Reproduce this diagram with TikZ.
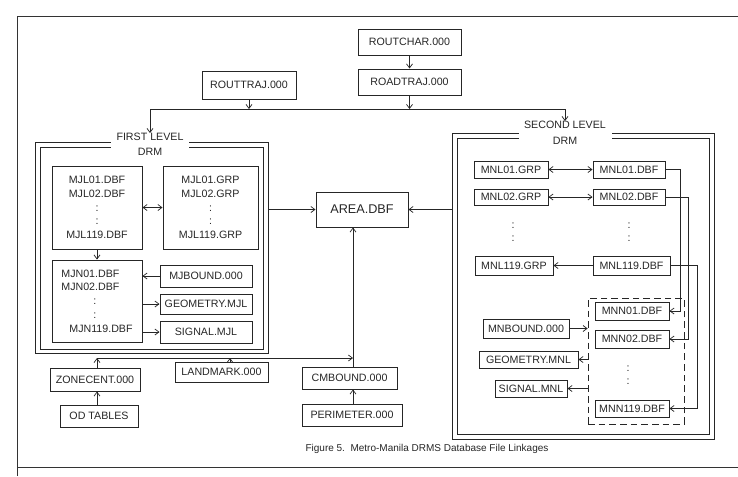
\documentclass[tikz,border=0pt]{standalone}
\usepackage{fontspec}
\setmainfont{Liberation Sans}
\usetikzlibrary{arrows.meta}
\begin{document}
\begin{tikzpicture}[x=0.75pt,y=-0.75pt,
  fbox/.style={draw=black!85, line width=0.75pt, inner sep=0pt, text=black!85,
    font=\fontsize{8}{10.3}\selectfont},
  sz/.style 2 args={minimum width=#1*0.75pt, minimum height=#2*0.75pt},
  conn/.style={draw=black!85, line width=0.55pt},
  arr/.style={conn, -{Straight Barb[length=3pt,width=4.5pt]}},
  darr/.style={conn, {Straight Barb[length=3pt,width=4.5pt]}-{Straight Barb[length=3pt,width=4.5pt]}},
  frm/.style={draw=black!85, line width=0.7pt, inner sep=0pt},
  ttl/.style={fill=white, inner sep=0pt, align=center, text=black!85},
  dotcol/.style={inner sep=0pt, align=center, text=black!85, font=\fontsize{8}{10}\selectfont},
  dbx/.style={draw=black!85, dashed, dash pattern=on 5pt off 3pt, line width=0.6pt, inner sep=0pt}
]
\useasboundingbox (0,0) rectangle (738,476);
% outer page frame
\draw[line width=0.7pt, black!80] (17,476) -- (17,16) -- (738,16);
\draw[line width=0.7pt, black!80] (17,467) -- (738,467);

% top files
\node[fbox, sz={103}{26}] (routchar) at (409.5,42) {ROUTCHAR.000};
\node[fbox, sz={103}{26}] (roadtraj) at (409.5,82) {ROADTRAJ.000};
\node[fbox, sz={94}{28}] (routtraj) at (249,85) {ROUTTRAJ.000};

% level frames (double lines)
\node[frm, sz={233}{211}] (f1) at (151.5,247.5) {};
\node[frm, sz={223}{202}] (f1i) at (151.5,248) {};
\node[frm, sz={262}{306}] (f2) at (583,286) {};
\node[frm, sz={252}{296}] (f2i) at (583,286) {};
\node[ttl, minimum width=78*0.75pt, font=\fontsize{8}{11.25}\selectfont] (t1) at (150,144.5) {FIRST LEVEL\\DRM};
\node[ttl, minimum width=93*0.75pt, font=\fontsize{8}{12}\selectfont] (t2) at (565,133) {SECOND LEVEL\\DRM};

% first level contents
\node[fbox, sz={90}{83}, align=center] (mjl) at (97,207.5) {MJL01.DBF\\MJL02.DBF\\:\\:\\MJL119.DBF};
\node[fbox, sz={95}{83}, align=center] (mjlg) at (210.5,207.5) {MJL01.GRP\\MJL02.GRP\\:\\:\\MJL119.GRP};
\node[fbox, sz={90}{82}, align=left] (mjn) at (97,301) {MJN01.DBF\\MJN02.DBF\\\hspace*{24pt}:\\\hspace*{24pt}:\\\hspace*{6pt}MJN119.DBF};
\node[fbox, sz={92}{22}] (mjbound) at (206,276) {MJBOUND.000};
\node[fbox, sz={92}{20}] (geomj) at (206,304) {GEOMETRY.MJL};
\node[fbox, sz={92}{22}] (sigmj) at (206,332) {SIGNAL.MJL};

% centre
\node[fbox, sz={92}{35}, font=\fontsize{9.5}{11}\selectfont] (area) at (362,209.5) {AREA.DBF};

% bottom files
\node[fbox, sz={90}{23}] (zonecent) at (95,379.5) {ZONECENT.000};
\node[fbox, sz={93}{20}] (landmark) at (221.5,372) {LANDMARK.000};
\node[fbox, sz={95}{22}] (cmbound) at (349.5,378) {CMBOUND.000};
\node[fbox, sz={100}{22}] (perimeter) at (352,415) {PERIMETER.000};
\node[fbox, sz={78}{22}] (odtables) at (99,416) {OD TABLES};

% second level contents
\node[fbox, sz={74}{17}] (mnl01g) at (511,169.5) {MNL01.GRP};
\node[fbox, sz={72}{17}] (mnl01d) at (629,169.5) {MNL01.DBF};
\node[fbox, sz={74}{16}] (mnl02g) at (511,197) {MNL02.GRP};
\node[fbox, sz={72}{16}] (mnl02d) at (629,197) {MNL02.DBF};
\node[dotcol] (dg) at (513,232) {:\\:};
\node[dotcol] (dd) at (629,232) {:\\:};
\node[fbox, sz={78}{19}] (mnl119g) at (514,265.5) {MNL119.GRP};
\node[fbox, sz={77}{19}] (mnl119d) at (631.5,265.5) {MNL119.DBF};

\node[dbx, sz={96}{126}] (dbox) at (636,361) {};
\node[fbox, sz={74}{18}] (mnn01) at (632,311) {MNN01.DBF};
\node[fbox, sz={74}{18}] (mnn02) at (632,339) {MNN02.DBF};
\node[dotcol] (dn) at (628,375) {:\\:};
\node[fbox, sz={74}{17}] (mnn119) at (632,408.5) {MNN119.DBF};

\node[fbox, sz={86}{19}] (mnbound) at (526,328.5) {MNBOUND.000};
\node[fbox, sz={99}{17}] (geomn) at (528.5,359.5) {GEOMETRY.MNL};
\node[fbox, sz={72}{17}] (sigmn) at (531,388.5) {SIGNAL.MNL};

% caption
\node[inner sep=0pt, text=black!85, font=\fontsize{7.5}{9}\selectfont] (cap) at (427,449) {Figure 5.\ \ Metro-Manila DRMS Database File Linkages};

% coordinates
\coordinate (jl) at (150,109);
\coordinate (jr) at (565,109);
\coordinate (vx) at (353,0);
\coordinate (h1) at (97,358);
\coordinate (h2) at (353,358);
\coordinate (lm) at (230,358);
\coordinate (r1) at (680,0);
\coordinate (r2) at (688,0);
\coordinate (r3) at (697,0);

% top connectors
\draw[arr] (routchar.south) -- (roadtraj.north);
\draw[conn] (jl) -- (jr);
\draw[arr] (routtraj.south) -- (routtraj.south |- jl);
\draw[arr] (roadtraj.south) -- (roadtraj.south |- jl);
\draw[arr] (jl) -- (t1.north);
\draw[arr] (jr) -- (t2.north);

% first level connectors
\draw[darr] (mjl.east) -- (mjlg.west);
\draw[arr] (mjl.south) -- (mjn.north);
\draw[arr] (mjbound.west) -- (mjn.east |- mjbound.west);
\draw[arr] (mjn.east |- geomj.west) -- (geomj.west);
\draw[arr] (mjn.east |- sigmj.west) -- (sigmj.west);

% area connectors
\draw[arr] (f1.east |- area.west) -- (area.west);
\draw[arr] (f2.west |- area.east) -- (area.east);
\draw[arr] (cmbound.north -| vx) -- (area.south -| vx);
\draw[arr] (perimeter.north -| vx) -- (cmbound.south -| vx);
\draw[arr] (h1) -- (h2);
\draw[arr] (h1 |- zonecent.north) -- (h1);
\draw[arr] (lm |- landmark.north) -- (lm);
\draw[arr] (h1 |- odtables.north) -- (h1 |- zonecent.south);

% second level connectors
\draw[darr] (mnl01g.east) -- (mnl01d.west);
\draw[darr] (mnl02g.east) -- (mnl02d.west);
\draw[arr] (mnl119d.west) -- (mnl119g.east);
\draw[arr] (mnl01d.east) -| (r1 |- mnn01.east) -- (mnn01.east);
\draw[arr] (mnl02d.east) -| (r2 |- mnn02.east) -- (mnn02.east);
\draw[arr] (mnl119d.east) -| (r3 |- mnn119.east) -- (mnn119.east);
\draw[arr] (mnbound.east) -- (dbox.west |- mnbound.east);
\draw[arr] (dbox.west |- geomn.east) -- (geomn.east);
\draw[arr] (dbox.west |- sigmn.east) -- (sigmn.east);
\end{tikzpicture}
\end{document}
